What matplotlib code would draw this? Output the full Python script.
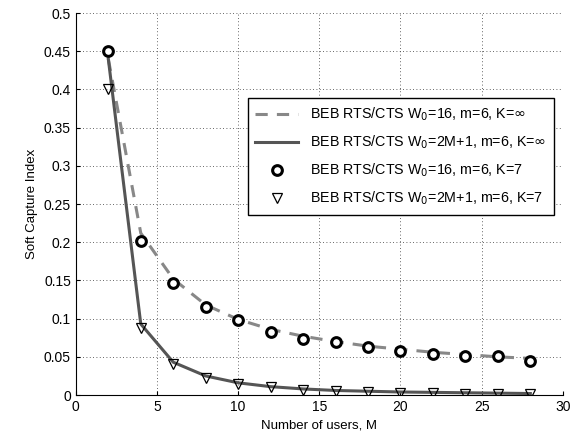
import matplotlib.pyplot as plt
import numpy as np

plt.rcParams['font.family'] = ['Liberation Sans', 'DejaVu Sans']

# Число пользователей
M = [2, 4, 6, 8, 10, 12, 14, 16, 18, 20, 22, 24, 26, 28]

# Аналитика (K = inf)
beb16_inf = [0.44, 0.212, 0.152, 0.118, 0.099, 0.086, 0.077, 0.070, 0.064, 0.060, 0.056, 0.053, 0.050, 0.048]
beb2m_inf = [0.44, 0.093, 0.043, 0.025, 0.016, 0.011, 0.008, 0.006, 0.005, 0.004, 0.0035, 0.003, 0.0025, 0.002]

# Симуляция (K = 7)
beb16_k7 = [0.45, 0.202, 0.147, 0.115, 0.098, 0.083, 0.073, 0.069, 0.063, 0.058, 0.054, 0.051, 0.0505, 0.045]
beb2m_k7 = [0.40, 0.088, 0.040, 0.022, 0.015, 0.010, 0.007, 0.005, 0.004, 0.003, 0.0025, 0.002, 0.0015, 0.001]

labels = [r'BEB RTS/CTS W$_0$=16, m=6, K=$\infty$',
          r'BEB RTS/CTS W$_0$=2M+1, m=6, K=$\infty$',
          r'BEB RTS/CTS W$_0$=16, m=6, K=7',
          r'BEB RTS/CTS W$_0$=2M+1, m=6, K=7']

fig = plt.figure(figsize=(5.79, 4.37), dpi=100)
ax = fig.add_axes([0.131, 0.096, 0.841, 0.874])

ax.plot(M, beb16_inf, '--', color='#888888', lw=2.2, dashes=(4, 3), label=labels[0])
ax.plot(M, beb2m_inf, '-', color='#555555', lw=2.2, label=labels[1])
ax.plot(M, beb16_k7, 'o', mfc='white', mec='black', mew=2.2, ms=7, ls='none', label=labels[2])
ax.plot(M, beb2m_k7, 'v', mfc='none', mec='black', mew=0.9, ms=7, ls='none', label=labels[3])

ax.set_xlim(0, 30)
ax.set_ylim(0, 0.5)
ax.set_xticks(np.arange(0, 31, 5))
ax.set_yticks(np.arange(0, 0.51, 0.05))
ax.set_yticklabels(['0', '0.05', '0.1', '0.15', '0.2', '0.25', '0.3', '0.35', '0.4', '0.45', '0.5'])
ax.tick_params(direction='in', labelsize=10, length=3)
ax.grid(True, color='#333333', lw=0.6, dashes=(1, 3))
ax.spines['top'].set_visible(False)
ax.spines['right'].set_visible(False)
ax.set_xlabel('Number of users, M', fontsize=9.5, labelpad=4)
ax.set_ylabel('Soft Capture Index', fontsize=9.5, labelpad=4)

leg = ax.legend(loc='upper left', bbox_to_anchor=(0.338, 0.797), fontsize=10.3,
                frameon=True, fancybox=False, edgecolor='black', framealpha=1,
                handlelength=3.0, labelspacing=0.75, borderpad=0.55)
leg.get_frame().set_linewidth(1.0)

plt.savefig('out.png', dpi=100)
